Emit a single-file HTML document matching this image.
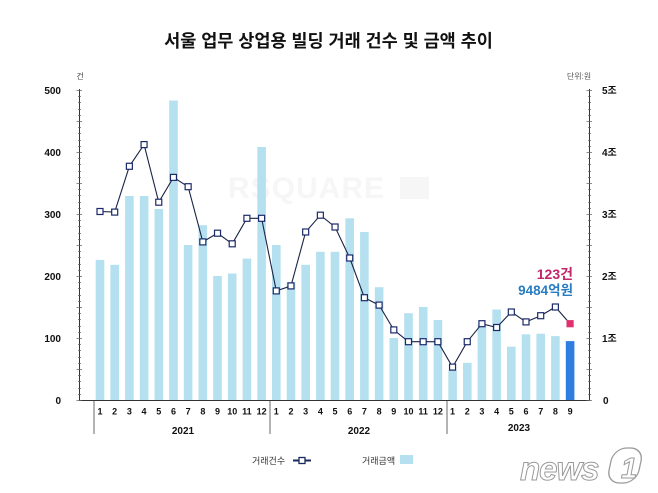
<!DOCTYPE html>
<html><head><meta charset="utf-8">
<style>
html,body{margin:0;padding:0;background:#fff;}
svg{display:block;}
text{font-family:"Liberation Sans","Noto Sans CJK KR",sans-serif;}
</style></head>
<body>
<svg width="658" height="493" viewBox="0 0 658 493" xmlns="http://www.w3.org/2000/svg">
<rect width="658" height="493" fill="#fff"/>
<text x="328.5" y="47" text-anchor="middle" font-size="17.5" font-weight="bold" fill="#111">서울 업무 상업용 빌딩 거래 건수 및 금액 추이</text>

<!-- watermark -->
<text x="228" y="198" font-size="30" font-weight="bold" fill="#f6f6f6" letter-spacing="1">RSQUARE</text>
<rect x="400" y="177" width="29" height="22" fill="#f6f6f6"/>

<!-- unit labels -->
<text x="80" y="79" text-anchor="middle" font-size="8" fill="#444">건</text>
<text x="579" y="79" text-anchor="middle" font-size="8" fill="#555">단위:원</text>

<!-- left tick labels -->
<g font-size="10" font-weight="bold" fill="#111" text-anchor="end">
<text x="61" y="94">500</text>
<text x="61" y="156">400</text>
<text x="61" y="218">300</text>
<text x="61" y="280">200</text>
<text x="61" y="342">100</text>
<text x="61" y="404">0</text>
</g>
<!-- right tick labels -->
<g font-size="10" font-weight="bold" fill="#111" text-anchor="start">
<text x="602" y="94">5조</text>
<text x="602" y="156">4조</text>
<text x="602" y="218">3조</text>
<text x="602" y="280">2조</text>
<text x="602" y="342">1조</text>
<text x="603" y="404">0</text>
</g>

<!-- bars -->
<g fill="#b5e0ef">
<rect x="95.7" y="259.9" width="8.6" height="140.1"/>
<rect x="110.4" y="264.8" width="8.6" height="135.2"/>
<rect x="125.1" y="196.0" width="8.6" height="204.0"/>
<rect x="139.8" y="196.0" width="8.6" height="204.0"/>
<rect x="154.5" y="209.0" width="8.6" height="191.0"/>
<rect x="169.2" y="100.5" width="8.6" height="299.5"/>
<rect x="183.8" y="245.0" width="8.6" height="155.0"/>
<rect x="198.5" y="225.2" width="8.6" height="174.8"/>
<rect x="213.2" y="276.0" width="8.6" height="124.0"/>
<rect x="227.9" y="273.5" width="8.6" height="126.5"/>
<rect x="242.6" y="258.6" width="8.6" height="141.4"/>
<rect x="257.3" y="147.0" width="8.6" height="253.0"/>
<rect x="272.0" y="245.0" width="8.6" height="155.0"/>
<rect x="286.7" y="282.2" width="8.6" height="117.8"/>
<rect x="301.4" y="264.8" width="8.6" height="135.2"/>
<rect x="316.1" y="251.8" width="8.6" height="148.2"/>
<rect x="330.7" y="251.8" width="8.6" height="148.2"/>
<rect x="345.4" y="218.3" width="8.6" height="181.7"/>
<rect x="360.1" y="232.0" width="8.6" height="168.0"/>
<rect x="374.8" y="287.2" width="8.6" height="112.8"/>
<rect x="389.5" y="338.0" width="8.6" height="62.0"/>
<rect x="404.2" y="313.2" width="8.6" height="86.8"/>
<rect x="418.9" y="307.0" width="8.6" height="93.0"/>
<rect x="433.6" y="320.0" width="8.6" height="80.0"/>
<rect x="448.3" y="370.2" width="8.6" height="29.8"/>
<rect x="463.0" y="362.8" width="8.6" height="37.2"/>
<rect x="477.6" y="325.0" width="8.6" height="75.0"/>
<rect x="492.3" y="309.5" width="8.6" height="90.5"/>
<rect x="507.0" y="346.7" width="8.6" height="53.3"/>
<rect x="521.7" y="334.3" width="8.6" height="65.7"/>
<rect x="536.4" y="333.7" width="8.6" height="66.3"/>
<rect x="551.1" y="336.1" width="8.6" height="63.9"/>
</g>
<rect x="565.8" y="341.1" width="8.6" height="58.9" fill="#2f7de0"/>

<!-- axes -->
<g stroke="#333" stroke-width="1" fill="none">
<line x1="79.5" y1="89" x2="79.5" y2="400.5"/>
<line x1="589.5" y1="89" x2="589.5" y2="400.5"/>
<line x1="79" y1="400.5" x2="590" y2="400.5"/>
</g>
<g stroke="#666" stroke-width="0.8" fill="none">
<path d="M78 394.5H81M78 388.5H81M78 381.5H81M78 375.5H81M78 363.5H81M78 357.5H81M78 350.5H81M78 344.5H81M78 332.5H81M78 326.5H81M78 319.5H81M78 313.5H81M78 301.5H81M78 295.5H81M78 288.5H81M78 282.5H81M78 270.5H81M78 264.5H81M78 257.5H81M78 251.5H81M78 239.5H81M78 233.5H81M78 226.5H81M78 220.5H81M78 208.5H81M78 202.5H81M78 195.5H81M78 189.5H81M78 177.5H81M78 171.5H81M78 164.5H81M78 158.5H81M78 146.5H81M78 140.5H81M78 133.5H81M78 127.5H81M78 115.5H81M78 109.5H81M78 102.5H81M78 96.5H81"/>
<path d="M76.5 400.5H82M76.5 369.5H82M76.5 338.5H82M76.5 307.5H82M76.5 276.5H82M76.5 245.5H82M76.5 214.5H82M76.5 183.5H82M76.5 152.5H82M76.5 121.5H82M76.5 90.5H82"/>
<path d="M588 394.5H591M588 388.5H591M588 381.5H591M588 375.5H591M588 363.5H591M588 357.5H591M588 350.5H591M588 344.5H591M588 332.5H591M588 326.5H591M588 319.5H591M588 313.5H591M588 301.5H591M588 295.5H591M588 288.5H591M588 282.5H591M588 270.5H591M588 264.5H591M588 257.5H591M588 251.5H591M588 239.5H591M588 233.5H591M588 226.5H591M588 220.5H591M588 208.5H591M588 202.5H591M588 195.5H591M588 189.5H591M588 177.5H591M588 171.5H591M588 164.5H591M588 158.5H591M588 146.5H591M588 140.5H591M588 133.5H591M588 127.5H591M588 115.5H591M588 109.5H591M588 102.5H591M588 96.5H591"/>
<path d="M586.5 400.5H592M586.5 369.5H592M586.5 338.5H592M586.5 307.5H592M586.5 276.5H592M586.5 245.5H592M586.5 214.5H592M586.5 183.5H592M586.5 152.5H592M586.5 121.5H592M586.5 90.5H592"/>
</g>
<g stroke="#9a9a9a" stroke-width="1.5">
<line x1="94" y1="401" x2="94" y2="434"/>
<line x1="270" y1="401" x2="270" y2="434"/>
<line x1="447" y1="401" x2="447" y2="434"/>
</g>

<!-- month labels -->
<g font-size="9" font-weight="bold" fill="#111" text-anchor="middle">
<text x="100.0" y="414.5">1</text>
<text x="114.69" y="414.5">2</text>
<text x="129.38" y="414.5">3</text>
<text x="144.07" y="414.5">4</text>
<text x="158.76" y="414.5">5</text>
<text x="173.45" y="414.5">6</text>
<text x="188.14" y="414.5">7</text>
<text x="202.83" y="414.5">8</text>
<text x="217.52" y="414.5">9</text>
<text x="232.21" y="414.5">10</text>
<text x="246.9" y="414.5">11</text>
<text x="261.59" y="414.5">12</text>
<text x="276.28" y="414.5">1</text>
<text x="290.97" y="414.5">2</text>
<text x="305.66" y="414.5">3</text>
<text x="320.35" y="414.5">4</text>
<text x="335.04" y="414.5">5</text>
<text x="349.73" y="414.5">6</text>
<text x="364.42" y="414.5">7</text>
<text x="379.11" y="414.5">8</text>
<text x="393.8" y="414.5">9</text>
<text x="408.49" y="414.5">10</text>
<text x="423.18" y="414.5">11</text>
<text x="437.87" y="414.5">12</text>
<text x="452.56" y="414.5">1</text>
<text x="467.25" y="414.5">2</text>
<text x="481.94" y="414.5">3</text>
<text x="496.63" y="414.5">4</text>
<text x="511.32" y="414.5">5</text>
<text x="526.01" y="414.5">6</text>
<text x="540.7" y="414.5">7</text>
<text x="555.39" y="414.5">8</text>
<text x="570.08" y="414.5">9</text>
</g>
<g font-size="10" font-weight="bold" fill="#111" text-anchor="middle">
<text x="183" y="434">2021</text>
<text x="359" y="434">2022</text>
<text x="519" y="431">2023</text>
</g>

<!-- count line -->
<polyline fill="none" stroke="#1b2346" stroke-width="1.1" points="100.0,211.5 114.69,212.1 129.38,166.3 144.07,144.6 158.76,202.2 173.45,177.4 188.14,186.7 202.83,241.9 217.52,233.2 232.21,243.8 246.9,218.3 261.59,218.3 276.28,290.9 290.97,285.9 305.66,232.0 320.35,215.2 335.04,227.0 349.73,258.0 364.42,297.7 379.11,305.1 393.8,329.9 408.49,341.7 423.18,341.7 437.87,341.7 452.56,367.1 467.25,341.7 481.94,323.7 496.63,327.5 511.32,312.0 526.01,321.9 540.7,315.7 555.39,307.0 570.08,323.7"/>
<g fill="#fff" stroke="#1b2a6b" stroke-width="1.2">
<rect x="97.0" y="208.5" width="6" height="6"/>
<rect x="111.69" y="209.1" width="6" height="6"/>
<rect x="126.38" y="163.3" width="6" height="6"/>
<rect x="141.07" y="141.6" width="6" height="6"/>
<rect x="155.76" y="199.2" width="6" height="6"/>
<rect x="170.45" y="174.4" width="6" height="6"/>
<rect x="185.14" y="183.7" width="6" height="6"/>
<rect x="199.83" y="238.9" width="6" height="6"/>
<rect x="214.52" y="230.2" width="6" height="6"/>
<rect x="229.21" y="240.8" width="6" height="6"/>
<rect x="243.9" y="215.3" width="6" height="6"/>
<rect x="258.59" y="215.3" width="6" height="6"/>
<rect x="273.28" y="287.9" width="6" height="6"/>
<rect x="287.97" y="282.9" width="6" height="6"/>
<rect x="302.66" y="229.0" width="6" height="6"/>
<rect x="317.35" y="212.2" width="6" height="6"/>
<rect x="332.04" y="224.0" width="6" height="6"/>
<rect x="346.73" y="255.0" width="6" height="6"/>
<rect x="361.42" y="294.7" width="6" height="6"/>
<rect x="376.11" y="302.1" width="6" height="6"/>
<rect x="390.8" y="326.9" width="6" height="6"/>
<rect x="405.49" y="338.7" width="6" height="6"/>
<rect x="420.18" y="338.7" width="6" height="6"/>
<rect x="434.87" y="338.7" width="6" height="6"/>
<rect x="449.56" y="364.1" width="6" height="6"/>
<rect x="464.25" y="338.7" width="6" height="6"/>
<rect x="478.94" y="320.7" width="6" height="6"/>
<rect x="493.63" y="324.5" width="6" height="6"/>
<rect x="508.32" y="309.0" width="6" height="6"/>
<rect x="523.01" y="318.9" width="6" height="6"/>
<rect x="537.7" y="312.7" width="6" height="6"/>
<rect x="552.39" y="304.0" width="6" height="6"/>
</g>
<rect x="567.08" y="320.7" width="6" height="6" fill="#e0306e" stroke="#e0306e" stroke-width="1.2"/>

<!-- annotations -->
<text x="573" y="279" text-anchor="end" font-size="14" font-weight="bold" fill="#c2246a">123건</text>
<text x="573" y="295" text-anchor="end" font-size="13.5" font-weight="bold" fill="#2a7cc2">9484억원</text>

<!-- legend -->
<text x="252" y="464" font-size="9" fill="#333">거래건수</text>
<line x1="293" y1="460.5" x2="311" y2="460.5" stroke="#1b2a5e" stroke-width="2"/>
<rect x="299" y="457.5" width="6" height="6" fill="#fff" stroke="#1b2a5e" stroke-width="1.3"/>
<text x="362" y="464" font-size="9" fill="#333">거래금액</text>
<rect x="400" y="455" width="13" height="9" fill="#b5e0ef"/>

<!-- news1 logo -->
<text x="520" y="480" font-size="33" font-style="italic" font-weight="bold" fill="#fff" stroke="#9a9a9a" stroke-width="1" letter-spacing="-1">news</text>
<rect x="614" y="448" width="30" height="35" rx="13" fill="#fff" stroke="#9a9a9a" stroke-width="1.3" transform="translate(95 0) skewX(-12)"/>
<text x="621" y="478" font-size="29" font-style="italic" font-weight="bold" fill="#fff" stroke="#9a9a9a" stroke-width="1">1</text>
</svg>
</body></html>
